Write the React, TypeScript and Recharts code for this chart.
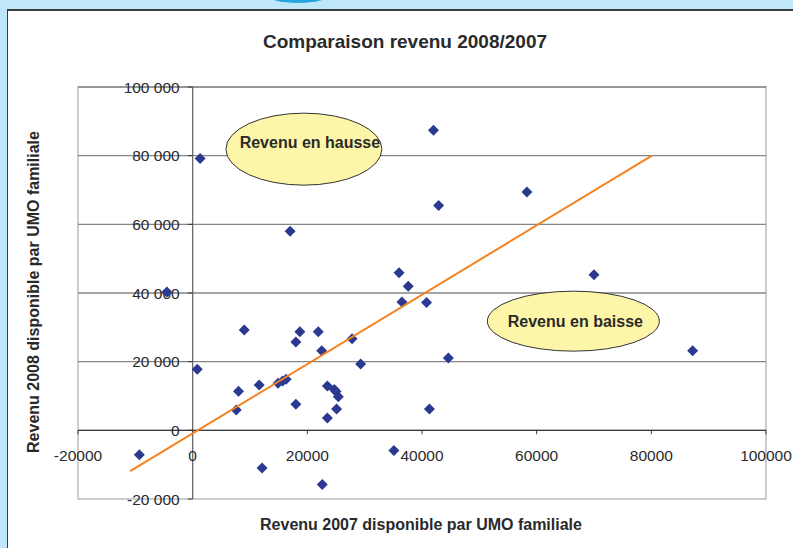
import React from 'react';
import {
  ScatterChart,
  Scatter,
  XAxis,
  YAxis,
  ReferenceLine,
  ReferenceArea,
  ReferenceDot,
} from 'recharts';

// axis ticks
const xTicks = [-20000, 0, 20000, 40000, 60000, 80000, 100000];
const yTicks = [-20000, 0, 20000, 40000, 60000, 80000, 100000];

// revenu disponible par UMO familiale (2007 -> x, 2008 -> y)
const revenu2007 = [
  1300, 42000, 42900, 17000, 58300, 70000, 36000, 37600, 36500, 40800,
  -4500, 9000, 18700, 21900, 18000, 22500, 27800, 29300, 44600, 87200,
  800, 8000, 11600, 14900, 15700, 16300, 7600, 18000, 23500, 24700,
  25000, 25400, 25100, 23500, 41300, -9300, 12100, 22600, 35100,
];
const revenu2008 = [
  79200, 87400, 65500, 58000, 69400, 45300, 45900, 42000, 37400, 37200,
  40300, 29200, 28700, 28700, 25700, 23200, 26700, 19300, 21100, 23200,
  17800, 11400, 13200, 13700, 14400, 14900, 5900, 7600, 12900, 11900,
  11300, 9800, 6200, 3600, 6200, -7100, -11000, -15800, -5900,
];

// trend line end points
const trendX = [-10900, 80100];
const trendY = [-11900, 80000];

// annotation bubbles
const bubbleLabels = ['Revenu en hausse', 'Revenu en baisse'];
const bubbleX = [19400, 66400];
const bubbleY = [81900, 31800];

const bubbleStyle = [
  { rx: 78, ry: 36, dx: 6, dy: -7 },
  { rx: 86, ry: 30, dx: 2, dy: 0 },
];

const FONT = '"Liberation Sans", Arial, sans-serif';
const BLUE = '#2b3990';

const points = revenu2007.map((x, i) => ({ x, y: revenu2008[i] }));
const trend = trendX.map((x, i) => ({ x, y: trendY[i] }));

function fmtY(v: number) {
  return String(v).replace(/\B(?=(\d{3})+(?!\d))/g, ' ');
}

function Diamond(props: any) {
  const { cx, cy } = props;
  if (cx == null || cy == null) return <g />;
  const r = 5.5;
  return (
    <polygon
      points={`${cx},${cy - r} ${cx + r},${cy} ${cx},${cy + r} ${cx - r},${cy}`}
      fill={BLUE}
    />
  );
}

export default function App() {
  return (
    <div
      style={{
        position: 'absolute',
        left: 0,
        top: 0,
        width: 793,
        height: 548,
        overflow: 'hidden',
        background: '#bfe6f9',
      }}
    >
      <div
        style={{
          position: 'absolute',
          left: 262,
          top: -20,
          width: 72,
          height: 23,
          borderRadius: '50%',
          background: '#27a3de',
        }}
      />
      <div
        style={{
          position: 'absolute',
          left: 7,
          top: 9,
          width: 800,
          height: 560,
          background: '#ffffff',
          borderTop: '2px solid #3a3a3a',
          borderLeft: '1.5px solid #3a3a3a',
        }}
      />
      <div style={{ position: 'absolute', left: 0, top: 0 }}>
        <ScatterChart
          width={793}
          height={548}
          margin={{ top: 87, right: 27, bottom: 49, left: 78 }}
        >
          <XAxis type="number" dataKey="x" domain={[-20000, 100000]} ticks={xTicks} hide />
          <YAxis type="number" dataKey="y" domain={[-20000, 100000]} ticks={yTicks} hide />
          <ReferenceArea
            x1={-20000}
            x2={100000}
            y1={-20000}
            y2={100000}
            fill="none"
            stroke="#bdbdbd"
            strokeWidth={1.5}
            ifOverflow="visible"
          />
          {yTicks
            .filter((v) => v > -20000)
            .map((v) => (
              <ReferenceLine key={'g' + v} y={v} stroke="#858585" strokeWidth={1.3} />
            ))}
          <ReferenceLine x={0} stroke="#6a6a6a" strokeWidth={1.3} />
          <ReferenceLine y={0} stroke="#3a3a3a" strokeWidth={1.3} />
          {yTicks.map((v) => (
            <ReferenceDot
              key={'yt' + v}
              x={0}
              y={v}
              ifOverflow="visible"
              shape={(p: any) => (
                <g>
                  <line x1={p.cx - 5} y1={p.cy} x2={p.cx} y2={p.cy} stroke="#3a3a3a" />
                  <text
                    x={p.cx - 13}
                    y={p.cy}
                    textAnchor="end"
                    dominantBaseline="central"
                    fontFamily={FONT}
                    fontSize={15.5}
                    fill="#2a2a2a"
                  >
                    {fmtY(v)}
                  </text>
                </g>
              )}
            />
          ))}
          {xTicks.map((v) => (
            <ReferenceDot
              key={'xt' + v}
              x={v}
              y={0}
              ifOverflow="visible"
              shape={(p: any) => (
                <g>
                  <line x1={p.cx} y1={p.cy} x2={p.cx} y2={p.cy + 4} stroke="#3a3a3a" />
                  <text
                    x={p.cx}
                    y={p.cy + 25}
                    textAnchor="middle"
                    dominantBaseline="central"
                    fontFamily={FONT}
                    fontSize={15.5}
                    fill="#2a2a2a"
                  >
                    {String(v)}
                  </text>
                </g>
              )}
            />
          ))}
          {bubbleLabels.map((label, i) => (
            <ReferenceDot
              key={label}
              x={bubbleX[i]}
              y={bubbleY[i]}
              ifOverflow="visible"
              shape={(p: any) => (
                <g>
                  <ellipse
                    cx={p.cx}
                    cy={p.cy}
                    rx={bubbleStyle[i].rx}
                    ry={bubbleStyle[i].ry}
                    fill="#fdf6a8"
                    stroke="#333333"
                    strokeWidth={1}
                  />
                  <text
                    x={p.cx + bubbleStyle[i].dx}
                    y={p.cy + bubbleStyle[i].dy}
                    textAnchor="middle"
                    dominantBaseline="central"
                    fontFamily={FONT}
                    fontWeight="bold"
                    fontSize={16}
                    fill="#2a2a2a"
                  >
                    {label}
                  </text>
                </g>
              )}
            />
          ))}
          <Scatter
            data={points}
            shape={<Diamond />}
            isAnimationActive={false}
            legendType="none"
          />
          <Scatter
            data={trend}
            line={{ stroke: '#f5821f', strokeWidth: 2 }}
            shape={() => <g />}
            isAnimationActive={false}
            legendType="none"
          />
        </ScatterChart>
      </div>
      <svg
        width={793}
        height={548}
        style={{ position: 'absolute', left: 0, top: 0, pointerEvents: 'none' }}
      >
        <text
          x={405}
          y={41}
          textAnchor="middle"
          dominantBaseline="central"
          fontFamily={FONT}
          fontWeight="bold"
          fontSize={19}
          fill="#2a2a2a"
        >
          Comparaison revenu 2008/2007
        </text>
        <text
          x={421}
          y={524}
          textAnchor="middle"
          dominantBaseline="central"
          fontFamily={FONT}
          fontWeight="bold"
          fontSize={16}
          fill="#2a2a2a"
        >
          Revenu 2007 disponible par UMO familiale
        </text>
        <text
          x={33}
          y={292}
          transform="rotate(-90 33 292)"
          textAnchor="middle"
          dominantBaseline="central"
          fontFamily={FONT}
          fontWeight="bold"
          fontSize={16}
          fill="#2a2a2a"
        >
          Revenu 2008 disponible par UMO familiale
        </text>
      </svg>
    </div>
  );
}
